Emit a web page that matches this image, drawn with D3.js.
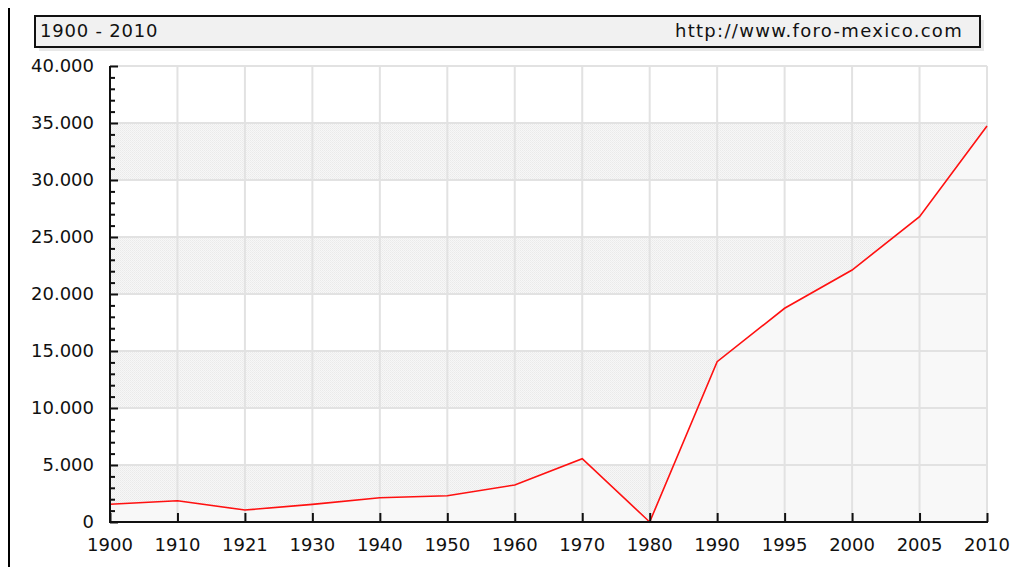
<!DOCTYPE html>
<html>
<head>
    <script src="https://d3js.org/d3.v7.min.js"></script>
    <style>
        body { margin: 0; background: #fff; }
        text { font-family: 'DejaVu Sans', Verdana, sans-serif; fill: #111; }
    </style>
</head>
<body>
    <script>
        // values
        const years = ['1900', '1910', '1921', '1930', '1940', '1950', '1960', '1970', '1980', '1990', '1995', '2000', '2005', '2010'];
        const population = [1560, 1870, 1050, 1550, 2130, 2300, 3250, 5550, 0, 14060, 18750, 22100, 26780, 34740];
        const yTicks = [0, 5000, 10000, 15000, 20000, 25000, 30000, 35000, 40000];
        const periodLabel = '1900 - 2010';
        const sourceLabel = 'http://www.foro-mexico.com';

        const W = 1011, H = 567;
        const margin = { top: 66, right: 24, bottom: 45, left: 110 };

        const svg = d3.select('body')
            .append('svg')
            .attr('width', W)
            .attr('height', H);

        const defs = svg.append('defs');
        const pat = defs.append('pattern')
            .attr('id', 'dots')
            .attr('width', 2)
            .attr('height', 2)
            .attr('patternUnits', 'userSpaceOnUse');
        pat.append('rect').attr('width', 2).attr('height', 2).attr('fill', '#f7f7f7');
        pat.append('rect').attr('width', 1).attr('height', 1).attr('fill', '#eaeaea');
        pat.append('rect').attr('x', 1).attr('y', 1).attr('width', 1).attr('height', 1).attr('fill', '#eeeeee');

        // page edge line on the left
        svg.append('line')
            .attr('x1', 9).attr('x2', 9)
            .attr('y1', 8).attr('y2', H)
            .attr('stroke', '#000')
            .attr('stroke-width', 2);

        // header box
        svg.append('rect')
            .attr('x', 39).attr('y', 20)
            .attr('width', 945).attr('height', 31)
            .attr('fill', '#e8e8e8');
        svg.append('rect')
            .attr('x', 35).attr('y', 16)
            .attr('width', 945).attr('height', 31)
            .attr('fill', '#f1f1f1')
            .attr('stroke', '#111')
            .attr('stroke-width', 2);
        svg.append('text')
            .attr('x', 40).attr('y', 37)
            .style('font-size', '18px')
            .style('letter-spacing', '0.8px')
            .text(periodLabel);
        svg.append('text')
            .attr('x', 963).attr('y', 37)
            .attr('text-anchor', 'end')
            .style('font-size', '18px')
            .style('letter-spacing', '1.3px')
            .text(sourceLabel);

        const x = d3.scalePoint()
            .domain(years)
            .range([margin.left, W - margin.right]);

        const y = d3.scaleLinear()
            .domain([0, 40000])
            .range([H - margin.bottom, margin.top]);

        const data = years.map((yr, i) => ({ year: yr, value: population[i] }));

        // alternating bands
        svg.append('g')
            .selectAll('rect')
            .data(yTicks.slice(0, -1).filter((d, i) => i % 2 === 0))
            .join('rect')
            .attr('x', margin.left)
            .attr('width', x.range()[1] - margin.left)
            .attr('y', d => y(d + 5000))
            .attr('height', d => y(d) - y(d + 5000))
            .attr('fill', 'url(#dots)');

        // area under the line
        svg.append('path')
            .datum(data)
            .attr('fill', '#f8f8f8')
            .attr('d', d3.area()
                .x(d => x(d.year))
                .y0(y(0))
                .y1(d => y(d.value)));

        // grid
        svg.append('g')
            .selectAll('line')
            .data(yTicks.slice(1))
            .join('line')
            .attr('x1', margin.left)
            .attr('x2', x.range()[1])
            .attr('y1', d => y(d))
            .attr('y2', d => y(d))
            .attr('stroke', '#e2e2e2')
            .attr('stroke-width', 2);

        svg.append('g')
            .selectAll('line')
            .data(years.slice(1))
            .join('line')
            .attr('x1', d => x(d))
            .attr('x2', d => x(d))
            .attr('y1', y(40000))
            .attr('y2', y(0))
            .attr('stroke', '#e2e2e2')
            .attr('stroke-width', 2);

        // data line
        svg.append('path')
            .datum(data)
            .attr('fill', 'none')
            .attr('stroke', '#ff1010')
            .attr('stroke-width', 1.6)
            .attr('d', d3.line()
                .x(d => x(d.year))
                .y(d => y(d.value)));

        // left axis with inward ticks
        const yAxis = svg.append('g')
            .attr('transform', `translate(${margin.left},0)`)
            .call(d3.axisRight(y)
                .tickValues(d3.range(0, 40001, 1000))
                .tickSize(5)
                .tickFormat(''));
        yAxis.select('.domain').remove();
        yAxis.selectAll('.tick line')
            .attr('stroke', '#111')
            .attr('stroke-width', 2)
            .attr('x2', d => d % 5000 === 0 ? 8 : 5);

        svg.append('g')
            .selectAll('text')
            .data(yTicks)
            .join('text')
            .attr('x', 94)
            .attr('y', d => y(d) + 6)
            .attr('text-anchor', 'end')
            .style('font-size', '18px')
            .text(d => d === 0 ? '0' : d3.format(',')(d).replace(',', '.'));

        // bottom axis with inward ticks
        const xAxis = svg.append('g')
            .attr('transform', `translate(0,${y(0)})`)
            .call(d3.axisTop(x).tickSize(9).tickFormat(''));
        xAxis.select('.domain').remove();
        xAxis.selectAll('.tick line')
            .attr('stroke', '#111')
            .attr('stroke-width', 2);

        svg.append('g')
            .selectAll('text')
            .data(years)
            .join('text')
            .attr('x', d => x(d))
            .attr('y', 551)
            .attr('text-anchor', 'middle')
            .style('font-size', '18px')
            .text(d => d);

        svg.append('line')
            .attr('x1', margin.left).attr('x2', x.range()[1] + 1)
            .attr('y1', y(0)).attr('y2', y(0))
            .attr('stroke', '#111').attr('stroke-width', 2);
        svg.append('line')
            .attr('x1', margin.left).attr('x2', margin.left)
            .attr('y1', y(40000)).attr('y2', y(0) + 1)
            .attr('stroke', '#111').attr('stroke-width', 2);
    </script>
</body>
</html>
